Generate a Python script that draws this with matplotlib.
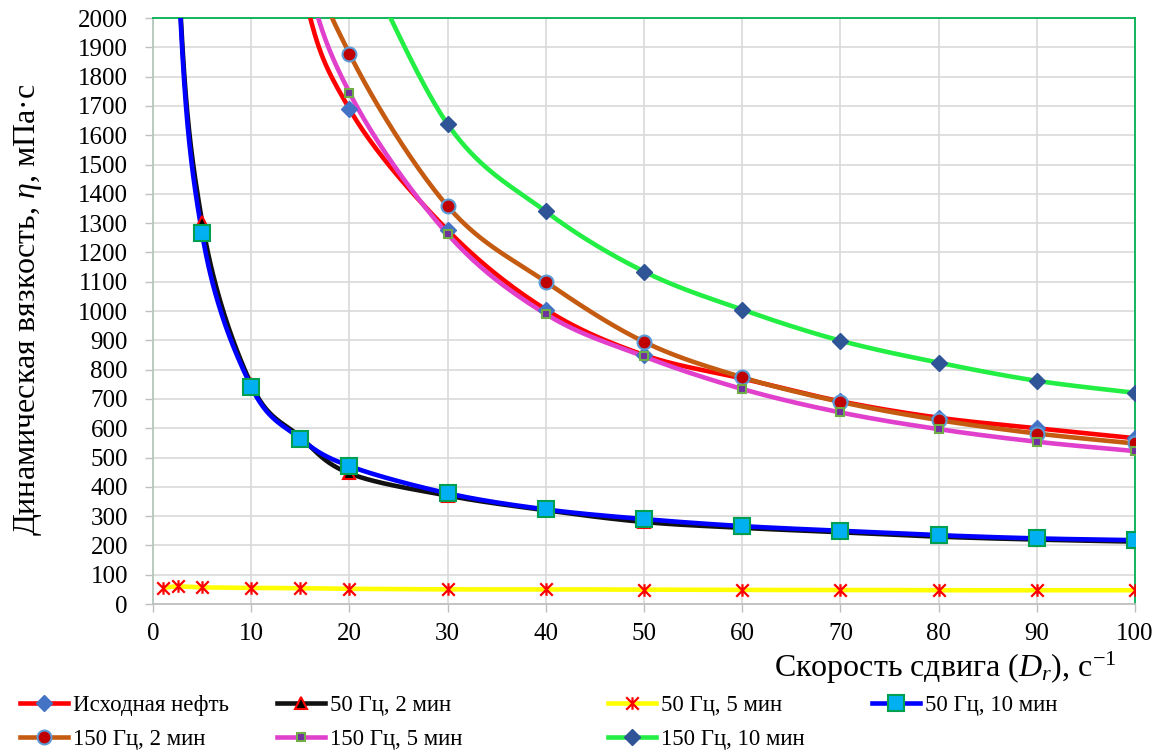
import numpy as np
import matplotlib
matplotlib.use("Agg")
import matplotlib.pyplot as plt
from matplotlib.path import Path

plt.rcParams['font.family'] = ['Liberation Serif', 'DejaVu Serif']
plt.rcParams['mathtext.fontset'] = 'custom'
plt.rcParams['mathtext.rm'] = 'Liberation Serif'
plt.rcParams['mathtext.it'] = 'Liberation Serif:italic'

# shear rate, 1/s
x_full = [1, 2.5, 5, 10, 15, 20, 30, 40, 50, 60, 70, 80, 90, 100]
x_high = [10, 15, 20, 30, 40, 50, 60, 70, 80, 90, 100]
x_green = [20, 30, 40, 50, 60, 70, 80, 90, 100]

# viscosity, mPa*s (values above 2000 lie outside the plot)
ref_oil = [3300, 2150, 1690, 1276, 1005, 850, 770, 692, 636, 600, 566]
hz50_2 = [4600, 2250, 1305, 750, 570, 446, 370, 320, 280, 260, 245, 230, 220, 213]
hz50_5 = [55, 60, 57, 55, 54, 52, 50, 50, 49, 48, 48, 47, 47, 47]
hz50_10 = [4600, 2230, 1265, 742, 565, 471, 378, 323, 290, 266, 250, 235, 224, 218]
hz150_2 = [3500, 2370, 1879, 1358, 1100, 895, 774, 690, 628, 582, 548]
hz150_5 = [3300, 2250, 1746, 1263, 990, 845, 734, 654, 597, 554, 522]
hz150_10 = [2300, 1638, 1340, 1135, 1005, 899, 824, 762, 721]

labels = ["Исходная нефть", "50 Гц, 2 мин", "50 Гц, 5 мин", "50 Гц, 10 мин",
          "150 Гц, 2 мин", "150 Гц, 5 мин", "150 Гц, 10 мин"]


def smooth(xs, ys, n=40):
    # Excel-like smoothed line (Catmull-Rom through the points)
    p = np.column_stack([xs, ys]).astype(float)
    out = []
    for i in range(len(p) - 1):
        p0 = p[i - 1] if i > 0 else p[i]
        p1, p2 = p[i], p[i + 1]
        p3 = p[i + 2] if i + 2 < len(p) else p[i + 1]
        c1 = p1 + (p2 - p0) / 6
        c2 = p2 - (p3 - p1) / 6
        t = np.linspace(0, 1, n)[:, None]
        seg = ((1 - t) ** 3) * p1 + 3 * ((1 - t) ** 2) * t * c1 + 3 * (1 - t) * t ** 2 * c2 + t ** 3 * p2
        out.append(seg)
    seg = np.vstack(out)
    return seg[:, 0], seg[:, 1]


star = Path([(-1, -1), (1, 1), (-1, 1), (1, -1), (0, -1), (0, 1)],
            [Path.MOVETO, Path.LINETO, Path.MOVETO, Path.LINETO, Path.MOVETO, Path.LINETO])

series = [
    (x_high, ref_oil, '#FF0000', dict(marker='D', ms=8, mfc='#4472C4', mec='#4472C4', mew=1)),
    (x_full, hz50_2, '#111111', dict(marker='^', ms=9, mfc='#000000', mec='#FF0000', mew=1.5)),
    (x_full, hz50_5, '#FFFF00', dict(marker=star, ms=9, mfc='none', mec='#FF0000', mew=1.6)),
    (x_full, hz50_10, '#0000FF', dict(marker='s', ms=11, mfc='#00B0F0', mec='#00A050', mew=1.5)),
    (x_high, hz150_2, '#C55A11', dict(marker='o', ms=10, mfc='#C00000', mec='#5B9BD5', mew=1.5)),
    (x_high, hz150_5, '#E040CC', dict(marker='s', ms=6, mfc='#7030A0', mec='#70AD47', mew=1.5)),
    (x_green, hz150_10, '#22EE44', dict(marker='D', ms=8, mfc='#2F5597', mec='#2F5597', mew=1)),
]

fig = plt.figure(figsize=(11.66, 7.54), dpi=100)
ax = fig.add_axes([0.1312, 0.1989, 0.8422, 0.7771])

handles = []
for xs, ys, col, mk in series:
    sx, sy = smooth(xs, ys)
    ax.plot(sx, sy, color=col, lw=3.3, solid_capstyle='butt', zorder=3)
    ax.plot(xs, ys, ls='none', zorder=4, **mk)
    h, = ax.plot([], [], color=col, lw=3.3, **mk)
    handles.append(h)

ax.set_xlim(0, 100)
ax.set_ylim(0, 2000)
ax.set_xticks(np.arange(0, 101, 10))
ax.set_yticks(np.arange(0, 2001, 100))
ax.grid(True, color='#D9D9D9', lw=1.2, zorder=0)
ax.set_axisbelow(True)
ax.tick_params(labelsize=18, length=6, width=1, color='#BFBFBF')
ax.tick_params(axis='y', pad=12)
ax.tick_params(axis='x', pad=8)

ax.spines['left'].set_color('#B4C8BC')
ax.spines['bottom'].set_color('#BFBFBF')
ax.spines['top'].set_color('#00B050')
ax.spines['right'].set_color('#00B050')
for s in ax.spines.values():
    s.set_linewidth(1.3)

fig.text(0.024, 0.59, 'Динамическая вязкость, $\\eta$, мПа·с', rotation=90,
         fontsize=23, ha='center', va='center')
fig.text(1117 / 1166, 1 - 668 / 754, 'Скорость сдвига ($D_r$), с$^{-1}$', fontsize=23,
         ha='right', va='center')

# legend laid out in columns like the original
cols = [(0, 4), (1, 5), (2, 6), (3,)]
xpos = [20, 277, 608, 872]
for idx, xp in zip(cols, xpos):
    leg = fig.legend([handles[i] for i in idx], [labels[i] for i in idx],
                     loc='upper left', bbox_to_anchor=(xp / 1166, 1 - 695 / 754),
                     frameon=False, fontsize=16.5, handlelength=2.1,
                     handletextpad=0.2, borderpad=0, borderaxespad=0,
                     labelspacing=0.55)

fig.savefig('out.png', dpi=100)
